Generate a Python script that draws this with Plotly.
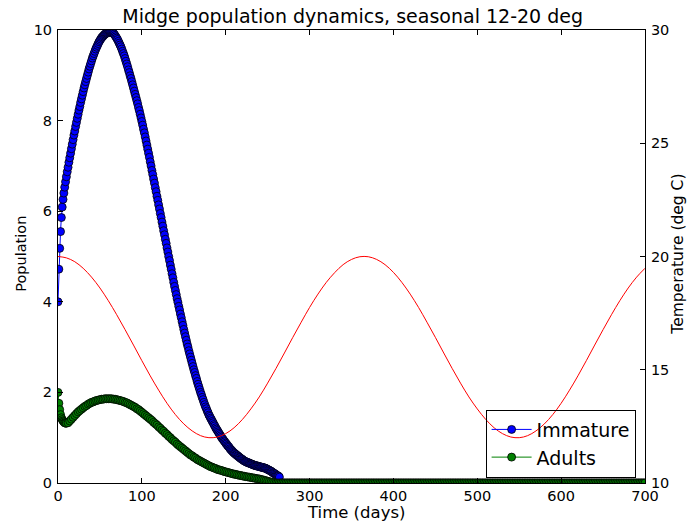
import plotly.graph_objects as go

# Immature population: daily values for days 0..264, then every 2 days
IMM_DAYS = list(range(0, 265)) + list(range(266, 701, 2))
IMMATURE_ACTIVE = [
    4.00, 4.72, 5.18, 5.55, 5.86, 6.09, 6.26, 6.40, 6.53, 6.65, 6.76,
    6.87, 6.97, 7.08, 7.18, 7.28, 7.38, 7.48, 7.58, 7.68, 7.77,
    7.87, 7.96, 8.05, 8.14, 8.23, 8.31, 8.40, 8.48, 8.56, 8.64,
    8.72, 8.79, 8.86, 8.93, 9.00, 9.07, 9.14, 9.20, 9.26, 9.32,
    9.38, 9.43, 9.48, 9.53, 9.58, 9.62, 9.66, 9.70, 9.74, 9.77,
    9.80, 9.83, 9.85, 9.87, 9.89, 9.91, 9.92, 9.93, 9.94, 9.95,
    9.96, 9.96, 9.96, 9.95, 9.94, 9.93, 9.91, 9.88, 9.85, 9.82,
    9.79, 9.75, 9.71, 9.67, 9.63, 9.58, 9.53, 9.48, 9.43, 9.37,
    9.31, 9.25, 9.19, 9.12, 9.06, 8.99, 8.93, 8.86, 8.79, 8.72,
    8.65, 8.58, 8.51, 8.44, 8.37, 8.29, 8.22, 8.14, 8.06, 7.98,
    7.90, 7.81, 7.73, 7.64, 7.55, 7.46, 7.37, 7.28, 7.19, 7.09,
    7.00, 6.90, 6.81, 6.71, 6.62, 6.52, 6.43, 6.33, 6.24, 6.14,
    6.05, 5.95, 5.86, 5.76, 5.67, 5.57, 5.48, 5.38, 5.29, 5.19,
    5.10, 5.00, 4.91, 4.81, 4.72, 4.62, 4.53, 4.43, 4.34, 4.25,
    4.16, 4.07, 3.99, 3.90, 3.82, 3.73, 3.65, 3.56, 3.48, 3.39,
    3.31, 3.23, 3.15, 3.07, 3.00, 2.92, 2.85, 2.78, 2.71, 2.64,
    2.57, 2.50, 2.44, 2.37, 2.31, 2.24, 2.18, 2.12, 2.06, 2.00,
    1.95, 1.89, 1.84, 1.78, 1.73, 1.68, 1.64, 1.59, 1.55, 1.50,
    1.47, 1.43, 1.40, 1.36, 1.33, 1.29, 1.26, 1.22, 1.19, 1.16,
    1.13, 1.10, 1.07, 1.04, 1.01, 0.98, 0.96, 0.93, 0.91, 0.88,
    0.86, 0.83, 0.81, 0.79, 0.76, 0.74, 0.72, 0.70, 0.68, 0.66,
    0.65, 0.63, 0.62, 0.60, 0.59, 0.57, 0.56, 0.54, 0.53, 0.52,
    0.50, 0.49, 0.48, 0.47, 0.46, 0.45, 0.45, 0.44, 0.43, 0.42,
    0.42, 0.41, 0.40, 0.39, 0.39, 0.38, 0.38, 0.37, 0.37, 0.36,
    0.36, 0.35, 0.35, 0.34, 0.34, 0.33, 0.33, 0.32, 0.31, 0.30,
    0.29, 0.28, 0.27, 0.26, 0.25, 0.23, 0.22, 0.21, 0.20, 0.18,
    0.17, 0.16, 0.15, 0.13,
]

# Adult population: daily for days 0..10, then every 2 days
ADULT_DAYS = list(range(0, 11)) + list(range(12, 701, 2))
ADULTS_ACTIVE = [
    2.00, 1.76, 1.62, 1.51, 1.44, 1.40, 1.37, 1.35, 1.33, 1.32, 1.32,
    1.33, 1.37, 1.41, 1.45, 1.49, 1.53, 1.57, 1.60, 1.63, 1.66,
    1.69, 1.71, 1.74, 1.76, 1.78, 1.79, 1.81, 1.82, 1.83, 1.84,
    1.85, 1.85, 1.86, 1.86, 1.86, 1.86, 1.86, 1.85, 1.85, 1.84,
    1.83, 1.82, 1.81, 1.80, 1.78, 1.77, 1.75, 1.73, 1.71, 1.69,
    1.67, 1.64, 1.62, 1.59, 1.56, 1.53, 1.50, 1.47, 1.44, 1.41,
    1.38, 1.34, 1.31, 1.28, 1.24, 1.21, 1.17, 1.14, 1.10, 1.07,
    1.03, 1.00, 0.96, 0.93, 0.90, 0.86, 0.83, 0.80, 0.77, 0.74,
    0.71, 0.68, 0.65, 0.62, 0.60, 0.57, 0.55, 0.52, 0.50, 0.48,
    0.46, 0.44, 0.42, 0.40, 0.38, 0.36, 0.35, 0.33, 0.32, 0.30,
    0.29, 0.28, 0.27, 0.255, 0.245, 0.235, 0.225, 0.215, 0.205, 0.195,
    0.19, 0.18, 0.17, 0.165, 0.155, 0.15, 0.14, 0.135, 0.13, 0.12,
    0.115, 0.11, 0.10, 0.095, 0.09, 0.08, 0.07, 0.06, 0.05, 0.04,
    0.03, 0.02, 0.01, 0.005,
]

# Both populations sit at zero for the rest of the run
EXTINCT_LEVEL = 0.0
IMMATURE = IMMATURE_ACTIVE + [EXTINCT_LEVEL] * (len(IMM_DAYS) - len(IMMATURE_ACTIVE))
ADULTS = ADULTS_ACTIVE + [EXTINCT_LEVEL] * (len(ADULT_DAYS) - len(ADULTS_ACTIVE))

# Seasonal temperature (deg C), every 10 days from 0 to 700
TEMP_DAYS = list(range(0, 701, 10))
TEMPERATURE = [
    20.00, 19.94, 19.77, 19.48, 19.09, 18.61, 18.05, 17.43, 16.77, 16.09,
    15.40, 14.73, 14.10, 13.52, 13.02, 12.61, 12.30, 12.09, 12.00, 12.03,
    12.18, 12.44, 12.81, 13.27, 13.80, 14.41, 15.06, 15.74, 16.43, 17.10,
    17.75, 18.34, 18.86, 19.29, 19.64, 19.87, 19.99, 19.99, 19.87, 19.64,
    19.30, 18.86, 18.34, 17.75, 17.10, 16.43, 15.74, 15.06, 14.41, 13.80,
    13.27, 12.81, 12.44, 12.18, 12.03, 12.00, 12.09, 12.30, 12.61, 13.02,
    13.52, 14.10, 14.73, 15.40, 16.09, 16.77, 17.43, 18.05, 18.61, 19.09,
    19.48,
]

X_TICKS = [0, 100, 200, 300, 400, 500, 600, 700]
Y_TICKS = [0, 2, 4, 6, 8, 10]
Y2_TICKS = [10, 15, 20, 25, 30]

FONT = "DejaVu Sans"

fig = go.Figure()

fig.add_trace(go.Scatter(
    x=IMM_DAYS, y=IMMATURE, name="Immature", mode="lines+markers",
    line=dict(color="#0000ff", width=1),
    marker=dict(color="#0000ff", size=8, line=dict(color="black", width=0.8)),
))
fig.add_trace(go.Scatter(
    x=ADULT_DAYS, y=ADULTS, name="Adults", mode="lines+markers",
    line=dict(color="#008000", width=1),
    marker=dict(color="#008000", size=8, line=dict(color="black", width=0.8)),
))
fig.add_trace(go.Scatter(
    x=TEMP_DAYS, y=TEMPERATURE, name="Temperature", mode="lines",
    line=dict(color="#ff0000", width=1, shape="spline"),
    yaxis="y2", showlegend=False,
))

axis_common = dict(
    showgrid=False, zeroline=False, showline=True, linecolor="black",
    linewidth=1, ticks="inside", ticklen=5, tickcolor="black",
    tickfont=dict(family=FONT, size=14.5, color="black"),
)

fig.update_layout(
    width=688, height=522,
    margin=dict(l=58, r=43, t=30, b=39),
    paper_bgcolor="white", plot_bgcolor="white",
    font=dict(family=FONT, color="black"),
    title=dict(
        text="Midge population dynamics, seasonal 12-20 deg",
        font=dict(family=FONT, size=19, color="black"),
        x=0.502, xanchor="center", xref="paper",
        y=1 - 16 / 522, yanchor="middle", yref="container",
    ),
    xaxis=dict(range=[0, 700], tickvals=X_TICKS, mirror="ticks",
               **axis_common),
    yaxis=dict(range=[0, 10], tickvals=Y_TICKS, mirror=True,
               ticklabelstandoff=2, **axis_common),
    yaxis2=dict(range=[10, 30], tickvals=Y2_TICKS, overlaying="y",
                side="right", ticklabelstandoff=2, **axis_common),
    legend=dict(
        x=0.984, y=0.012, xanchor="right", yanchor="bottom",
        bgcolor="rgba(0,0,0,0)", bordercolor="black", borderwidth=1,
        font=dict(family=FONT, size=19, color="black"),
        itemwidth=40,
    ),
    annotations=[
        dict(text="Time (days)", xref="paper", yref="paper",
             x=0.5085, y=-0.066, xanchor="center", yanchor="middle",
             showarrow=False, font=dict(family=FONT, size=16.5)),
        dict(text="Population", xref="paper", yref="paper",
             x=-0.062, y=0.505, xanchor="center", yanchor="middle",
             textangle=-90, showarrow=False,
             font=dict(family=FONT, size=14.5)),
        dict(text="Temperature (deg C)", xref="paper", yref="paper",
             x=1.057, y=0.505, xanchor="center", yanchor="middle",
             textangle=-90, showarrow=False,
             font=dict(family=FONT, size=15.5)),
    ],
)

fig.write_html("out.html")
